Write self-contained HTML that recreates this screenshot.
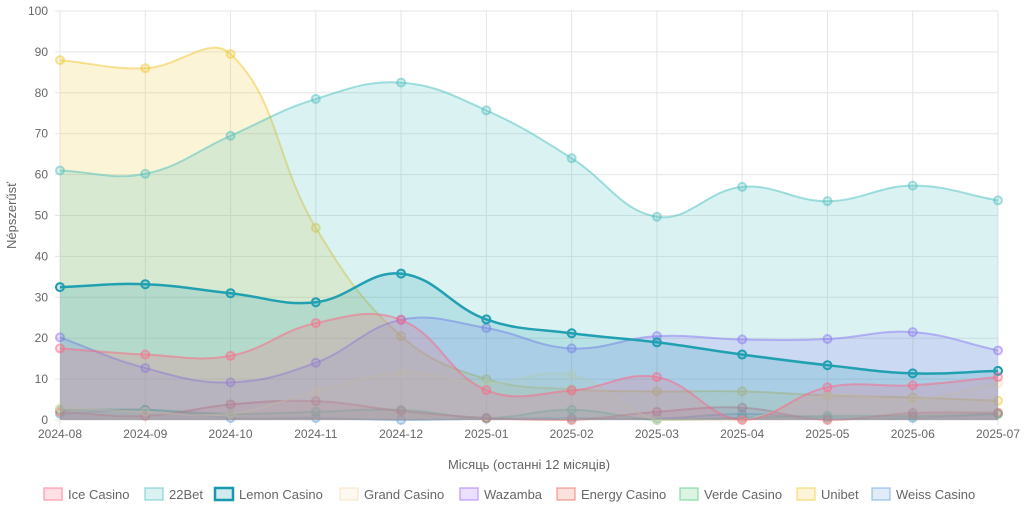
<!DOCTYPE html>
<html><head><meta charset="utf-8"><style>
body{margin:0;background:#fff;font-family:"Liberation Sans",sans-serif;}
svg text{font-family:"Liberation Sans","Noto Sans CJK SC",sans-serif;fill:#666;}
</style></head><body>
<svg id="c" width="1024" height="521" xmlns="http://www.w3.org/2000/svg"></svg>
<script>
const W=1024,L=60,R=998,T=11,B=420;
const svg=document.getElementById('c');
let h='';
const X=i=>L+i*(R-L)/11, Y=v=>B-v*(B-T)/100;
for(let v=0;v<=100;v+=10){h+=`<line x1="${L-5}" x2="${R}" y1="${Y(v)}" y2="${Y(v)}" stroke="#e5e5e5"/>`;h+=`<text x="${L-12}" y="${Y(v)+4}" font-size="12" text-anchor="end">${v}</text>`;}
const months=['2024-08','2024-09','2024-10','2024-11','2024-12','2025-01','2025-02','2025-03','2025-04','2025-05','2025-06','2025-07'];
months.forEach((m,i)=>{h+=`<line x1="${X(i)}" x2="${X(i)}" y1="${T}" y2="${B+5}" stroke="#e5e5e5"/>`;h+=`<text x="${X(i)}" y="${B+18}" font-size="12" text-anchor="middle">${m}</text>`;});
const ds=[
['Ice Casino','255,99,132',[17.5,16,15.7,23.7,24.5,7.3,7.2,10.5,0,8,8.5,10.5],0.5],
['22Bet','75,192,192',[61,60.2,69.5,78.5,82.5,75.7,64,49.7,57,53.5,57.3,53.7],0.5],
['Lemon Casino','23,153,175',[32.5,33.2,31,28.8,35.8,24.6,21.2,19,16,13.4,11.4,12],1],
['Grand Casino','245,222,179',[3,2,1.5,7,11.5,9,11,0,0,6,5,9],0.5],
['Wazamba','153,102,255',[20.2,12.7,9.2,14,24.5,22.5,17.5,20.5,19.7,19.8,21.5,17],0.5],
['Energy Casino','235,100,90',[2,1,3.8,4.6,2.2,0.5,0,2,3,0,1.7,1.8],0.5],
['Verde Casino','75,200,120',[2.5,2.5,1.5,2,2.5,0.5,2.5,0,0.5,1,1,1.5],0.5],
['Unibet','240,200,50',[88,86,89.5,47,20.5,10,7.5,7,7,6,5.5,4.7],0.5],
['Weiss Casino','100,160,220',[1.5,2.5,0.5,0.5,0,0.3,0.5,0.3,1.5,0.5,0.5,1.5],0.5]];
function path(p){const t=0.4;let d=`M${p[0][0]},${p[0][1]}`;
 const cp=p.map((pt,i)=>{const pr=p[Math.max(0,i-1)],nx=p[Math.min(p.length-1,i+1)];
  const d01=Math.hypot(pt[0]-pr[0],pt[1]-pr[1]),d12=Math.hypot(nx[0]-pt[0],nx[1]-pt[1]);
  let fa=d01/(d01+d12)||0,fb=d12/(d01+d12)||0;fa*=t;fb*=t;
  return [[pt[0]-fa*(nx[0]-pr[0]),pt[1]-fa*(nx[1]-pr[1])],[pt[0]+fb*(nx[0]-pr[0]),pt[1]+fb*(nx[1]-pr[1])]];});
 for(let i=1;i<p.length;i++){const a=cp[i-1][1],b=cp[i][0];d+=` C${a[0]},${Math.min(B,a[1])} ${b[0]},${Math.min(B,b[1])} ${p[i][0]},${p[i][1]}`;}return d;}
for(let k=ds.length-1;k>=0;k--){const [n,c,v,a]=ds[k];const p=v.map((y,i)=>[X(i),Y(y)]);const d=path(p);
 h+=`<path d="${d} L${R},${B} L${L},${B}Z" fill="rgba(${c},0.2)"/>`;
 h+=`<path d="${d}" fill="none" stroke="rgba(${c},${a})" stroke-width="${a==1?2.5:2}"/>`;
 p.forEach(q=>{h+=`<circle cx="${q[0]}" cy="${q[1]}" r="4" fill="rgba(${c},0.2)" stroke="rgba(${c},${a})" stroke-width="2"/>`;});}
h+=`<text x="${(L+R)/2}" y="469" font-size="13" text-anchor="middle">Місяць (останні 12 місяців)</text>`;
h+=`<text transform="translate(16,${(T+B)/2}) rotate(-90)" font-size="13" text-anchor="middle">Népszerűsť</text>`;
const lx=[44,145,215,340,460,557,680,797,872];
ds.forEach((d,i)=>{const a=d[3];h+=`<rect x="${lx[i]}" y="488" width="18" height="12" fill="rgba(${d[1]},0.2)" stroke="rgba(${d[1]},${a})" stroke-width="${a==1?2.5:1.5}"/>`;h+=`<text x="${lx[i]+24}" y="499" font-size="13">${d[0]}</text>`;});
svg.innerHTML=h;
</script>
</body></html>
